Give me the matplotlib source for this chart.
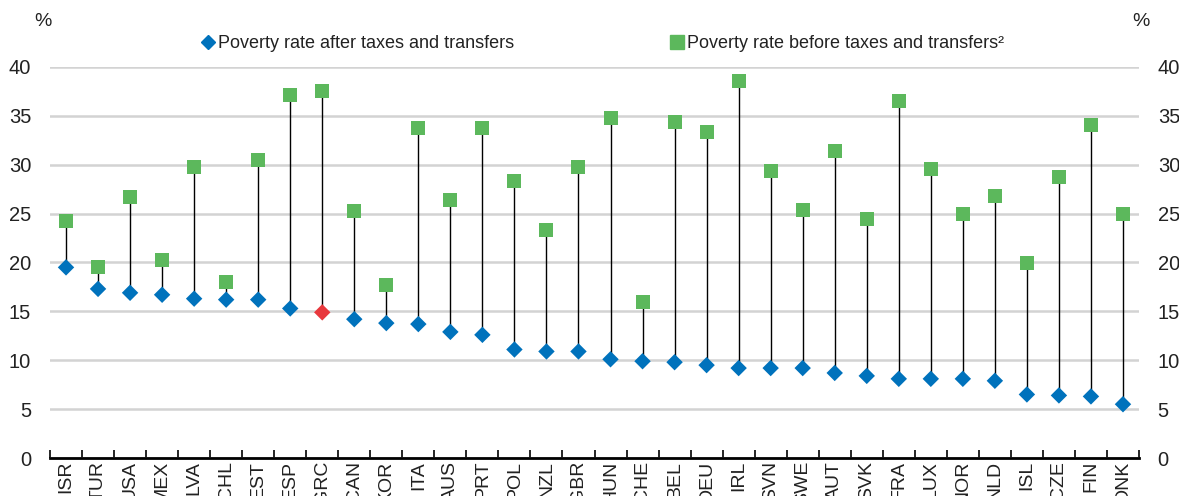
import numpy as np
import matplotlib.pyplot as plt
from matplotlib.lines import Line2D

plt.rcParams['font.family'] = ['Liberation Sans', 'DejaVu Sans']

countries = ['ISR', 'TUR', 'USA', 'MEX', 'LVA', 'CHL', 'EST', 'ESP', 'GRC', 'CAN', 'KOR',
             'ITA', 'AUS', 'PRT', 'POL', 'NZL', 'GBR', 'HUN', 'CHE', 'BEL', 'DEU', 'IRL',
             'SVN', 'SWE', 'AUT', 'SVK', 'FRA', 'LUX', 'NOR', 'NLD', 'ISL', 'CZE', 'FIN', 'DNK']
after = [19.5, 17.3, 16.9, 16.7, 16.3, 16.2, 16.2, 15.3, 14.9, 14.2, 13.8,
         13.7, 12.9, 12.6, 11.1, 10.9, 10.9, 10.1, 9.9, 9.8, 9.5, 9.2,
         9.2, 9.2, 8.7, 8.4, 8.1, 8.1, 8.1, 7.9, 6.5, 6.4, 6.3, 5.5]
before = [24.2, 19.5, 26.7, 20.3, 29.8, 18.0, 30.5, 37.1, 37.5, 25.3, 17.7,
          33.8, 26.4, 33.8, 28.3, 23.3, 29.8, 34.8, 16.0, 34.4, 33.3, 38.6,
          29.4, 25.4, 31.4, 24.4, 36.5, 29.6, 25.0, 26.8, 19.9, 28.7, 34.1, 25.0]
highlight = 'GRC'

blue = '#0072BC'
green = '#5CB85C'
red = '#E8383D'
txt = '#222222'

W, H = 1179, 496
fig = plt.figure(figsize=(W/100, H/100), dpi=100)
ax = fig.add_axes([50/W, 38/H, 1089/W, (458-67)/H])

x = np.arange(len(countries))
ax.vlines(x, after, before, color='black', lw=1.0, zorder=2)
ax.plot(x, before, 's', color=green, ms=10, mew=0, zorder=3, clip_on=False)
cols = [red if c == highlight else blue for c in countries]
ax.scatter(x, after, marker='D', s=70, c=cols, zorder=4, clip_on=False, linewidths=0)

ax.set_xlim(-0.5, len(countries) - 0.5)
ax.set_ylim(0, 40)
ax.set_yticks(range(0, 41, 5))
ax.grid(axis='y', color='#D3D3D3', lw=1.8, zorder=0)
ax.set_axisbelow(True)
for s in ['top', 'right', 'left']:
    ax.spines[s].set_visible(False)
ax.spines['bottom'].set_linewidth(2)
ax.spines['bottom'].set_zorder(5)

ax.set_xticks(x)
ax.set_xticklabels(countries, rotation=90, fontsize=14, color=txt)
ax.set_xticks(np.arange(-0.5, len(countries), 1), minor=True)
ax.tick_params(axis='x', which='major', length=0, pad=2)
ax.tick_params(axis='x', which='minor', direction='in', length=6, width=1.2)
ax.tick_params(axis='y', length=0, labelsize=14.5, labelcolor=txt, pad=13.5,
               labelright=True, labelleft=True)

fig.text(43/W, 1 - 22/H, '%', fontsize=14, ha='center', va='center', color=txt)
fig.text(1141/W, 1 - 22/H, '%', fontsize=14, ha='center', va='center', color=txt)

# legend: two entries placed separately
fs = 13
hl = 0.6
for handle, label, xc in [
        (Line2D([], [], marker='D', color=blue, ls='none', ms=7), 'Poverty rate after taxes and transfers', 208),
        (Line2D([], [], marker='s', color=green, ls='none', ms=10), 'Poverty rate before taxes and transfers\u00b2', 677)]:
    hw = hl * fs * 100 / 72
    fig.legend([handle], [label], loc='center left', bbox_to_anchor=((xc - hw/2)/W, 1 - 44/H),
               frameon=False, fontsize=fs, handlelength=hl, handletextpad=0.25,
               borderpad=0, borderaxespad=0, labelcolor=txt)

fig.savefig('out.png', dpi=100)
